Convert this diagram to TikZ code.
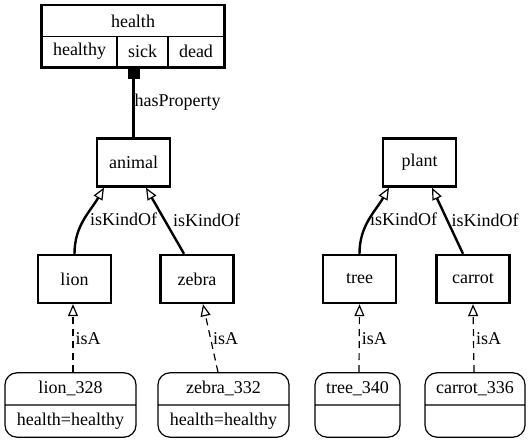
\documentclass[tikz,border=0pt]{standalone}
\usepackage{fontspec}
\setmainfont{Liberation Serif}
\usetikzlibrary{arrows.meta,shapes.multipart}
\begin{document}
\begin{tikzpicture}[x=1pt, y=1pt, font=\fontsize{18}{21.6}\selectfont,
        cell/.style={draw, line width=1.2pt, minimum height=30.5pt, inner sep=0pt},
        cls/.style={draw, rectangle, line width=2.4pt, minimum width=73pt, minimum height=48pt, inner sep=0pt},
        inst/.style={draw, line width=1.2pt, rounded corners=12pt, rectangle split, rectangle split parts=2, inner xsep=4pt, inner ysep=4.7pt},
        kind/.style={line width=2.4pt, -{Triangle[open, length=12pt, width=10pt, line width=1.2pt]}},
        isa/.style={line width=1.2pt, dash pattern=on 7pt off 5pt, -{Triangle[open, length=12pt, width=10pt]}},
        lbl/.style={right, inner sep=2pt}]
    \useasboundingbox (0,0) rectangle (531,443);
    \node[cell, minimum width=182pt] (health) at (133,422) {health};
    \node[cell, minimum width=75pt] (healthy) at (79.5,391.5) {healthy};
    \node[cell, minimum width=51pt] (sick) at (142.5,391.5) {sick};
    \node[cell, minimum width=56pt] (dead) at (196,391.5) {dead};
    \draw[line width=2.4pt] (health.north west) rectangle (dead.south east);
    \node[cls] (animal) at (133.5,280.5) {animal};
    \node[cls] (plant) at (419.5,280.5) {plant};
    \node[cls] (lion) at (74.5,164) {lion};
    \node[cls] (zebra) at (197,164) {zebra};
    \node[cls] (tree) at (359.5,164) {tree};
    \node[cls] (carrot) at (473,164) {carrot};
    \node[inst, minimum width=131pt] (lion328) at (70.5,38) {lion\_328\strut \nodepart{two} health=healthy\strut};
    \node[inst, minimum width=131pt] (zebra332) at (223.5,38) {zebra\_332\strut \nodepart{two} health=healthy\strut};
    \node[inst, minimum width=85pt] (tree340) at (357.5,38) {tree\_340\strut \nodepart{two} \strut};
    \node[inst, minimum width=100pt] (carrot336) at (475,38) {carrot\_336\strut \nodepart{two} \strut};
    \draw[line width=2.4pt, {Square[length=12pt, width=12pt]}-] (animal.north |- sick.south) -- node[lbl, inner sep=0pt] {hasProperty} (animal.north);
    \draw[kind] (lion.north) to[out=90, in=-120] node[lbl, xshift=3pt] {isKindOf} ([xshift=-29.5pt]animal.south);
    \draw[kind] ([xshift=-13pt]zebra.north) -- node[lbl, xshift=5pt] {isKindOf} ([xshift=12.5pt]animal.south);
    \draw[kind] (tree.north) to[out=90, in=-120] node[lbl, xshift=-2pt] {isKindOf} ([xshift=-30.5pt]plant.south);
    \draw[kind] ([xshift=-10pt]carrot.north) -- node[lbl, xshift=1pt] {isKindOf} ([xshift=12.5pt]plant.south);
    \draw[isa] ([xshift=2.5pt]lion328.north) -- node[lbl] {isA} ([xshift=-1.5pt]lion.south);
    \draw[isa] ([xshift=-5.5pt]zebra332.north) -- node[lbl] {isA} ([xshift=6pt]zebra.south);
    \draw[isa] ([xshift=1.5pt]tree340.north) -- node[lbl] {isA} (tree.south);
    \draw[isa] ([xshift=-1pt]carrot336.north) -- node[lbl] {isA} (carrot.south);
\end{tikzpicture}
\end{document}
